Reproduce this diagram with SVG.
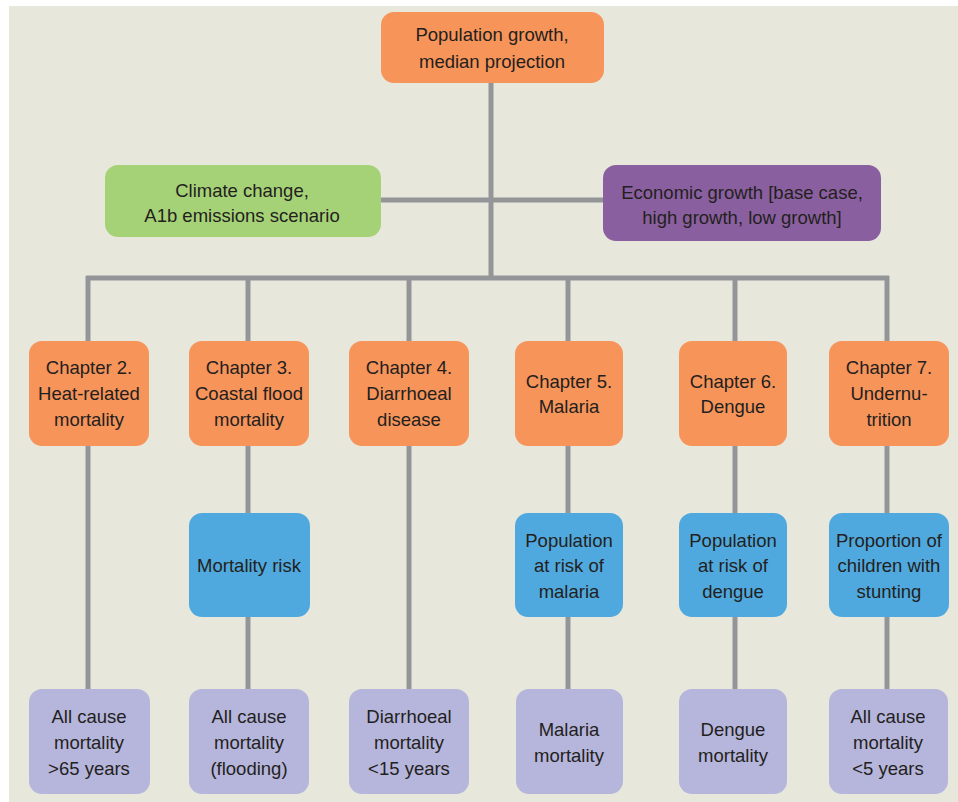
<svg xmlns="http://www.w3.org/2000/svg" width="958" height="802" viewBox="0 0 958 802">
<style>
text{font-family:"Liberation Sans",Arial,sans-serif;font-size:18.5px;fill:#231f20;text-anchor:middle}
.or{fill:#f79459}
.gr{fill:#a6d277}
.pu{fill:#8a5f9f}
.bl{fill:#4fa9de}
.lv{fill:#b6b5db}
.ln{stroke:#939598;stroke-width:5;fill:none}
</style>
<rect x="0" y="0" width="958" height="802" fill="#ffffff"/>
<rect x="9" y="6" width="949" height="796" fill="#e8e7dc"/>
<g id="connectors" class="ln">
<path d="M491 83V278"/>
<path d="M381 200H603"/>
<path d="M86 278H889"/>
<path d="M88 276V341M248 276V341M409 276V341M568 276V341M735 276V341M887 276V341"/>
<path d="M88 446V689"/>
<path d="M248 446V513M248 617V689"/>
<path d="M409 446V689"/>
<path d="M568 446V513M568 617V689"/>
<path d="M735 446V513M735 617V689"/>
<path d="M887 446V513M887 617V689"/>
</g>
<g id="pop"><rect class="or" x="381" y="12" width="223" height="71" rx="13"/><text x="492" y="41">Population growth,</text><text x="492" y="68">median projection</text></g>
<g id="climate"><rect class="gr" x="105" y="165" width="276" height="72" rx="13"/><text x="242" y="197">Climate change,</text><text x="242" y="222">A1b emissions scenario</text></g>
<g id="econ"><rect class="pu" x="603" y="165" width="278" height="76" rx="13"/><text x="742" y="199">Economic growth [base case,</text><text x="742" y="224">high growth, low growth]</text></g>
<g id="ch2"><rect class="or" x="29" y="341" width="120" height="105" rx="13"/><text x="89" y="374">Chapter 2.</text><text x="89" y="400">Heat-related</text><text x="89" y="426">mortality</text></g>
<g id="ch3"><rect class="or" x="189" y="341" width="120" height="105" rx="13"/><text x="249" y="374">Chapter 3.</text><text x="249" y="400">Coastal flood</text><text x="249" y="426">mortality</text></g>
<g id="ch4"><rect class="or" x="349" y="341" width="120" height="105" rx="13"/><text x="409" y="374">Chapter 4.</text><text x="409" y="400">Diarrhoeal</text><text x="409" y="426">disease</text></g>
<g id="ch5"><rect class="or" x="515" y="341" width="108" height="105" rx="13"/><text x="569" y="388">Chapter 5.</text><text x="569" y="413">Malaria</text></g>
<g id="ch6"><rect class="or" x="679" y="341" width="108" height="105" rx="13"/><text x="733" y="388">Chapter 6.</text><text x="733" y="413">Dengue</text></g>
<g id="ch7"><rect class="or" x="829" y="341" width="120" height="105" rx="13"/><text x="889" y="374">Chapter 7.</text><text x="889" y="400">Undernu-</text><text x="889" y="426">trition</text></g>
<g id="risk3"><rect class="bl" x="189" y="513" width="121" height="104" rx="13"/><text x="249" y="572">Mortality risk</text></g>
<g id="risk5"><rect class="bl" x="515" y="513" width="108" height="104" rx="13"/><text x="569" y="547">Population</text><text x="569" y="572">at risk of</text><text x="569" y="598">malaria</text></g>
<g id="risk6"><rect class="bl" x="679" y="513" width="108" height="104" rx="13"/><text x="733" y="547">Population</text><text x="733" y="572">at risk of</text><text x="733" y="598">dengue</text></g>
<g id="risk7"><rect class="bl" x="829" y="513" width="120" height="104" rx="13"/><text x="889" y="547">Proportion of</text><text x="889" y="572">children with</text><text x="889" y="598">stunting</text></g>
<g id="out2"><rect class="lv" x="29" y="689" width="121" height="105" rx="13"/><text x="89" y="723">All cause</text><text x="89" y="749">mortality</text><text x="89" y="775">&gt;65 years</text></g>
<g id="out3"><rect class="lv" x="189" y="689" width="120" height="105" rx="13"/><text x="249" y="723">All cause</text><text x="249" y="749">mortality</text><text x="249" y="775">(flooding)</text></g>
<g id="out4"><rect class="lv" x="349" y="689" width="120" height="105" rx="13"/><text x="409" y="723">Diarrhoeal</text><text x="409" y="749">mortality</text><text x="409" y="775">&lt;15 years</text></g>
<g id="out5"><rect class="lv" x="516" y="689" width="107" height="105" rx="13"/><text x="569" y="736">Malaria</text><text x="569" y="762">mortality</text></g>
<g id="out6"><rect class="lv" x="679" y="689" width="108" height="105" rx="13"/><text x="733" y="736">Dengue</text><text x="733" y="762">mortality</text></g>
<g id="out7"><rect class="lv" x="829" y="689" width="119" height="105" rx="13"/><text x="888" y="723">All cause</text><text x="888" y="749">mortality</text><text x="888" y="775">&lt;5 years</text></g>
</svg>
